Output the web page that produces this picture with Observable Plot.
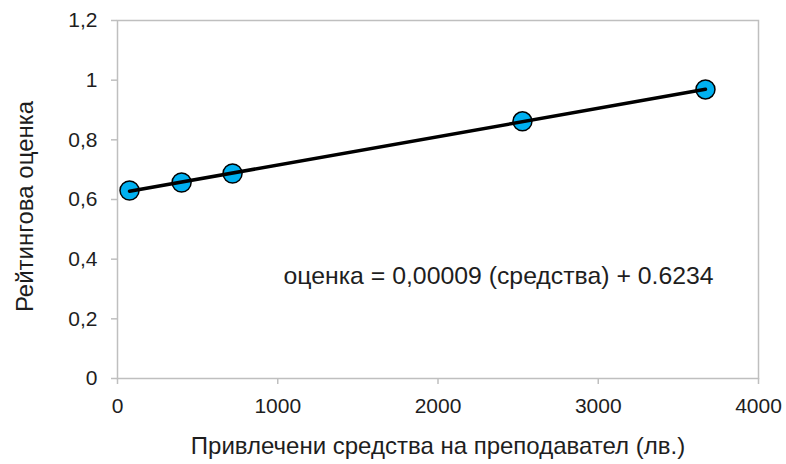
<!DOCTYPE html>
<html>
<head>
<meta charset="utf-8">
<script src="https://cdn.jsdelivr.net/npm/d3@7"></script>
<script src="https://cdn.jsdelivr.net/npm/@observablehq/plot@0.6"></script>
<style>
  html, body { margin: 0; padding: 0; background: #fff; }
  #chart { width: 786px; height: 464px; }
  svg text { font-family: "Liberation Sans", Arial, sans-serif; }
</style>
</head>
<body>
<div id="chart"></div>
<script>
// Funds raised per lecturer (лв.) and the resulting rating score
const funds = [75, 400, 718, 2527, 3669];
const ratings = [0.630, 0.657, 0.687, 0.862, 0.969];

const xTicks = [0, 1000, 2000, 3000, 4000];
const yTicks = [0, 0.2, 0.4, 0.6, 0.8, 1, 1.2];

const xTitle = "Привлечени средства на преподавател (лв.)";
const yTitle = "Рейтингова оценка";

// Regression equation label and where it sits in data space
const equation = ["оценка = 0,00009 (средства) + 0.6234"];
const equationAt = { x: [2378], y: [0.342] };

const data = funds.map((f, i) => ({ funds: f, rating: ratings[i] }));
const eqData = equation.map((t, i) => ({ text: t, x: equationAt.x[i], y: equationAt.y[i] }));

const textColor = "#1e1e1e";
const axisColor = "#bfbfbf";

const chart = Plot.plot({
  width: 786,
  height: 464,
  marginLeft: 117,
  marginRight: 28,
  marginTop: 20,
  marginBottom: 86,
  style: { fontFamily: "Liberation Sans, Arial, sans-serif", color: textColor, background: "#fff" },
  x: { domain: [0, 4000] },
  y: { domain: [0, 1.2] },
  marks: [
    Plot.frame({ stroke: axisColor, strokeWidth: 1.5 }),
    Plot.axisX({
      ticks: xTicks,
      tickFormat: d => String(d),
      tickSize: 6,
      tickPadding: 14,
      fontSize: 21,
      stroke: axisColor,
      strokeWidth: 1.5,
      fill: textColor,
      label: null
    }),
    Plot.axisY({
      ticks: yTicks,
      tickFormat: d => String(d).replace(".", ","),
      tickSize: 6,
      tickPadding: 14,
      fontSize: 21,
      stroke: axisColor,
      strokeWidth: 1.5,
      fill: textColor,
      label: null
    }),
    Plot.dot(data, {
      x: "funds",
      y: "rating",
      r: 9.5,
      fill: "#00b0f0",
      stroke: "#000",
      strokeWidth: 1.5
    }),
    Plot.linearRegressionY(data, {
      x: "funds",
      y: "rating",
      ci: 0,
      stroke: "#000",
      strokeWidth: 3.5
    }),
    Plot.text(eqData, {
      x: "x",
      y: "y",
      text: "text",
      fontSize: 24.8,
      fill: textColor,
      textAnchor: "middle"
    }),
    // Axis titles
    Plot.text([xTitle], {
      frameAnchor: "bottom",
      lineAnchor: "middle",
      dy: 68,
      text: d => d,
      fontSize: 24,
      fill: textColor
    }),
    Plot.text([yTitle], {
      frameAnchor: "left",
      textAnchor: "middle",
      lineAnchor: "middle",
      dx: -92,
      dy: 7,
      rotate: -90,
      text: d => d,
      fontSize: 24,
      fill: textColor
    })
  ]
});

document.getElementById("chart").appendChild(chart);
</script>
</body>
</html>
